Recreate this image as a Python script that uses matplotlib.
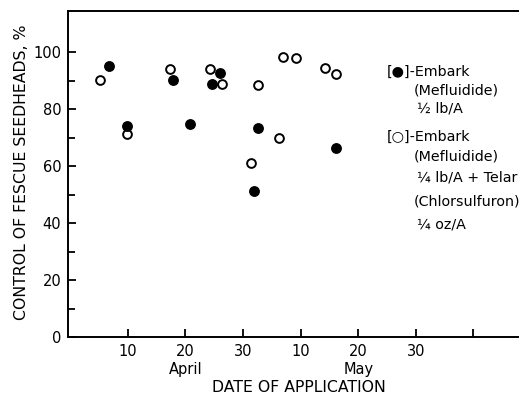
import matplotlib
matplotlib.use('Agg')
import matplotlib.pyplot as plt
from matplotlib.ticker import FixedLocator

# days counted from 31 March (April d -> d, May d -> 30 + d)
open_days = [5.2, 9.8, 17.3, 24.3, 26.3, 31.4, 32.6, 36.3, 37.0, 39.2, 44.3, 46.1]
open_pct = [90.3, 71.5, 94.0, 94.2, 88.8, 61.0, 88.5, 69.8, 98.5, 98.1, 94.4, 92.5]

filled_days = [6.8, 9.8, 17.9, 20.9, 24.6, 26.1, 31.9, 32.7, 46.2]
filled_pct = [95.3, 74.1, 90.3, 74.8, 88.8, 92.6, 51.4, 73.4, 66.5]

x_ticks = [10, 20, 30, 40, 50, 60, 70]
x_labels = ['10', '20', '30', '10', '20', '30', '']
y_ticks = [0, 20, 40, 60, 80, 100]
y_minor = [10, 30, 50, 70, 90]

plt.rcParams['font.family'] = ['DejaVu Sans']
fig = plt.figure(figsize=(5.19, 3.95), dpi=100)
ax = fig.add_axes([0.1316, 0.1468, 0.8684, 0.825])

ax.plot(open_days, open_pct, 'o', ms=6.3, mfc='white', mec='black', mew=1.4, zorder=3)
ax.plot(filled_days, filled_pct, 'o', ms=6.8, mfc='black', mec='black', zorder=3)

ax.set_xlim(-0.3, 77.9)
ax.set_ylim(0, 114.5)
ax.set_xticks(x_ticks)
ax.set_xticklabels(x_labels)
ax.set_yticks(y_ticks)
ax.yaxis.set_minor_locator(FixedLocator(y_minor))
ax.tick_params(axis='both', which='both', direction='in', width=1.3, labelsize=10.5)
ax.tick_params(axis='x', length=6, pad=5)
ax.tick_params(axis='y', which='major', length=6, pad=5)
ax.tick_params(axis='y', which='minor', length=5)

ax.spines['right'].set_visible(False)
for s in ['left', 'top', 'bottom']:
    ax.spines[s].set_linewidth(1.4)

ax.set_ylabel('CONTROL OF FESCUE SEEDHEADS, %', fontsize=11.3)
ax.yaxis.set_label_coords(-0.088, 0.505)
ax.set_xlabel('DATE OF APPLICATION', fontsize=11.3)
ax.xaxis.set_label_coords(0.511, -0.156)
ax.xaxis.label.set_va('center')
ax.text(20, -0.077, 'April', transform=ax.get_xaxis_transform(), ha='center', va='top', fontsize=10.5)
ax.text(50, -0.077, 'May', transform=ax.get_xaxis_transform(), ha='center', va='top', fontsize=10.5)

# legend text block
lines = [
    (387, 72, '[●]-Embark'),
    (414, 91, '(Mefluidide)'),
    (417, 109, '½ lb/A'),
    (387, 137, '[○]-Embark'),
    (414, 156, '(Mefluidide)'),
    (417, 178, '¼ lb/A + Telar'),
    (414, 202, '(Chlorsulfuron)'),
    (417, 224, '¼ oz/A'),
]
for px, py, s in lines:
    fig.text(px / 519, 1 - py / 395, s, ha='left', va='center', fontsize=10.3)

fig.savefig('out.png', dpi=100)
